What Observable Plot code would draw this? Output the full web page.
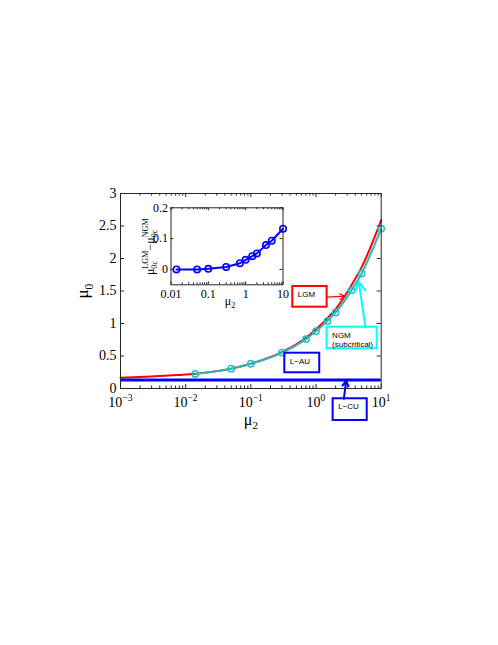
<!DOCTYPE html>
<html><head><meta charset="utf-8">
<script src="https://cdn.jsdelivr.net/npm/d3@7"></script>
<script src="https://cdn.jsdelivr.net/npm/@observablehq/plot@0.6"></script>
<style>
html,body{margin:0;padding:0;background:#fff;overflow:hidden;}
#wrap{position:relative;width:498px;height:645px;}
#wrap svg{position:absolute;left:0;top:0;max-width:none;}
</style></head><body><div id="wrap"></div>
<script>
// ---------- data ----------
const mu2 = [0.014, 0.05, 0.1, 0.3, 0.7, 1, 1.5, 2, 3.5, 5, 10];
const ngmMu0 = [0.225, 0.305, 0.38, 0.552, 0.76, 0.88, 1.04, 1.17, 1.51, 1.77, 2.46];
const lgmMu2 = [0.001, 0.003, 0.01, 0.014, 0.05, 0.1, 0.3, 0.7, 1, 1.5, 2, 3.5, 5, 10];
const lgmMu0 = [0.165, 0.185, 0.215, 0.227, 0.306, 0.382, 0.56, 0.78, 0.911, 1.083, 1.222, 1.589, 1.863, 2.59];
const lcuMu0 = [0.13];
const diffMu0c = [0, 0, 0.002, 0.008, 0.02, 0.031, 0.043, 0.052, 0.079, 0.093, 0.132];
const xTicks = [1e-3, 1e-2, 1e-1, 1e0, 1e1];
const yTicks = [0, 0.5, 1, 1.5, 2, 2.5, 3];
const insetXTicks = [0.01, 0.1, 1, 10];
const insetYTicks = [0, 0.1, 0.2];
const boxLabels = [["LGM"], ["NGM", "(subcritical)"], ["L\u2212AU"], ["L\u2212CU"]];
const boxColors = ["#ff0000", "#00ffff", "#0000ff", "#0000ff"];

// ---------- layout (annotation placement in data space) ----------
const boxPos = [
  {x1: 0.44, x2: 1.48, y1: 1.569, y2: 1.251},
  {x1: 1.48, x2: 8.67, y1: 0.943, y2: 0.611},
  {x1: 0.332, x2: 1.14, y1: 0.543, y2: 0.242},
  {x1: 1.83, x2: 6.1, y1: -0.158, y2: -0.492}
];
const arrowPos = [
  {x1: 1.48, y1: 1.405, x2: 2.76, y2: 1.42, color: "#ff0000", w: 1.2},
  {x1: 5.74, y1: 0.943, x2: 4.53, y2: 1.64, color: "#00ffff", w: 2},
  {x1: 2.67, y1: -0.158, x2: 2.9, y2: 0.12, color: "#0000ff", w: 2}
];

const W = 498, H = 645;
const M = {left: 120, right: 380.7, top: 193, bottom: 388};
const I = {left: 170.5, right: 282.5, top: 207.3, bottom: 284.3};
const serif = "'Liberation Serif', 'Times New Roman', serif";
const sans = "'Liberation Sans', Arial, sans-serif";
const axisCol = "#262626";

const boxes = boxPos.map((b, i) => ({...b, label: boxLabels[i], color: boxColors[i]}));
const ngm = mu2.map((x, i) => ({x, y: ngmMu0[i]}));
const lgm = lgmMu2.map((x, i) => ({x, y: lgmMu0[i]}));
const diff = mu2.map((x, i) => ({x, y: diffMu0c[i]}));

const isDecade = t => Math.abs(Math.log10(t) - Math.round(Math.log10(t))) < 1e-9;
const minorMain = d3.scaleLog().domain([1e-3, 10]).ticks().filter(t => !isDecade(t));
const minorInset = d3.scaleLog().domain([0.01, 10]).ticks().filter(t => !isDecade(t));
const pow10 = d => { const e = Math.round(Math.log10(d)); return "10^{" + (e < 0 ? "\u2212" + (-e) : e) + "}"; };

const fw = M.right - M.left, fh = M.bottom - M.top;
const mainPlot = Plot.plot({
  width: W, height: H,
  marginLeft: M.left, marginRight: W - M.right, marginTop: M.top, marginBottom: H - M.bottom,
  x: {type: "log", domain: [1e-3, 10], axis: null, label: null},
  y: {domain: [0, 3], axis: null, label: null},
  color: {type: "identity"},
  style: {fontFamily: serif, fontSize: "14px", background: "white", color: "black"},
  marks: [
    Plot.line(lgm, {x: "x", y: "y", stroke: "#ff0000", strokeWidth: 2, curve: "monotone-x"}),
    Plot.line(ngm, {x: "x", y: "y", stroke: "#33b3b3", strokeWidth: 2, curve: "monotone-x"}),
    Plot.dot(ngm, {x: "x", y: "y", r: 3.2, stroke: "#22c2c2", strokeWidth: 1.5, fill: "none"}),
    Plot.ruleY(lcuMu0, {y: d => d, stroke: "#0000ff", strokeWidth: 3}),
    Plot.rect(boxes, {x1: "x1", x2: "x2", y1: "y1", y2: "y2", stroke: "color", strokeWidth: 2, fill: "none"}),
    Plot.text(boxes, {x: "x1", y: "y1", text: d => d.label.join("\n"), textAnchor: "start", lineAnchor: "top",
      dx: 5, dy: 3.5, fontFamily: sans, fontSize: 8, lineHeight: 1.2, fill: "black"}),
    Plot.arrow(arrowPos.filter(a => a.w < 1.5), {x1: "x1", y1: "y1", x2: "x2", y2: "y2", stroke: "color", strokeWidth: 1.2, headLength: 7}),
    Plot.arrow(arrowPos.filter(a => a.w >= 1.5), {x1: "x1", y1: "y1", x2: "x2", y2: "y2", stroke: "color", strokeWidth: 2, headLength: 8}),
    // ticks (inside)
    Plot.tickX(xTicks, {x: d => d, insetTop: fh - 4, stroke: axisCol}),
    Plot.tickX(xTicks, {x: d => d, insetBottom: fh - 4, stroke: axisCol}),
    Plot.tickX(minorMain, {x: d => d, insetTop: fh - 2.5, stroke: axisCol}),
    Plot.tickX(minorMain, {x: d => d, insetBottom: fh - 2.5, stroke: axisCol}),
    Plot.tickY(yTicks, {y: d => d, insetRight: fw - 4, stroke: axisCol}),
    Plot.tickY(yTicks, {y: d => d, insetLeft: fw - 4, stroke: axisCol}),
    Plot.frame({stroke: axisCol}),
    Plot.axisX({ticks: xTicks, tickFormat: pow10, tickSize: 0, tickPadding: 9, fontSize: 14, fontFamily: serif, label: null}),
    Plot.axisY({ticks: yTicks, tickFormat: d => String(d), tickSize: 0, tickPadding: 4, fontSize: 14, fontFamily: serif, label: null}),
    Plot.text(["\u03bc_{0}"], {frameAnchor: "left", textAnchor: "middle", text: d => d, rotate: -90, dx: -38, fontSize: 17, fontFamily: serif}),
    Plot.text(["\u03bc_{2}"], {frameAnchor: "bottom", textAnchor: "middle", text: d => d, dy: 36, fontSize: 16, fontFamily: serif})
  ]
});

const iw = I.right - I.left, ih = I.bottom - I.top;
const insetPlot = Plot.plot({
  width: W, height: H,
  marginLeft: I.left, marginRight: W - I.right, marginTop: I.top, marginBottom: H - I.bottom,
  x: {type: "log", domain: [0.01, 10], axis: null, label: null},
  y: {domain: [-0.05, 0.2], axis: null, label: null},
  style: {fontFamily: serif, fontSize: "12px", background: "transparent", color: "black"},
  marks: [
    Plot.frame({fill: "white", stroke: "none"}),
    Plot.line(diff, {x: "x", y: "y", stroke: "#0000ff", strokeWidth: 2}),
    Plot.dot(diff, {x: "x", y: "y", r: 3.2, stroke: "#0000ff", strokeWidth: 1.6, fill: "none"}),
    Plot.tickX(insetXTicks, {x: d => d, insetTop: ih - 3, stroke: axisCol}),
    Plot.tickX(insetXTicks, {x: d => d, insetBottom: ih - 3, stroke: axisCol}),
    Plot.tickX(minorInset, {x: d => d, insetTop: ih - 2, stroke: axisCol}),
    Plot.tickX(minorInset, {x: d => d, insetBottom: ih - 2, stroke: axisCol}),
    Plot.tickY(insetYTicks, {y: d => d, insetRight: iw - 3, stroke: axisCol}),
    Plot.tickY(insetYTicks, {y: d => d, insetLeft: iw - 3, stroke: axisCol}),
    Plot.frame({stroke: axisCol}),
    Plot.axisX({ticks: insetXTicks, tickFormat: d => String(d), tickSize: 0, tickPadding: 5, fontSize: 12, fontFamily: serif, label: null}),
    Plot.axisY({ticks: insetYTicks, tickFormat: d => String(d), tickSize: 0, tickPadding: 3, fontSize: 12, fontFamily: serif, label: null}),
    Plot.text(["\u03bc_{0c}^{LGM}\u2212\u03bc_{0c}^{NGM}"], {frameAnchor: "left", textAnchor: "middle", text: d => d, rotate: -90, dx: -21, fontSize: 12, fontFamily: serif}),
    Plot.text(["\u03bc_{2}"], {frameAnchor: "bottom", textAnchor: "middle", text: d => d, dy: 20, dx: 3, fontSize: 12, fontFamily: serif})
  ]
});

const wrap = document.getElementById("wrap");
wrap.appendChild(mainPlot);
wrap.appendChild(insetPlot);

// turn _{..} and ^{..} into sub/superscript tspans, then re-centre the whole label
function richify(root) {
  root.querySelectorAll("text").forEach(el => {
    const t = el.textContent;
    if (!/[_^]\{/.test(t)) return;
    const fs = parseFloat(getComputedStyle(el).fontSize) || 12;
    const small = fs * 0.68;
    const re = /([_^])\{([^}]*)\}|([^_^]+)/g;
    const parts = []; let m;
    while ((m = re.exec(t))) parts.push(m[3] !== undefined ? {k: "n", s: m[3]} : {k: m[1] === "_" ? "sub" : "sup", s: m[2]});
    while (el.firstChild) el.removeChild(el.firstChild);
    let level = 0, prev = null;
    for (const p of parts) {
      const ts = document.createElementNS("http://www.w3.org/2000/svg", "tspan");
      ts.textContent = p.s;
      const target = p.k === "n" ? 0 : p.k === "sub" ? 0.28 * fs : -0.48 * fs;
      if (target !== level) ts.setAttribute("dy", (target - level).toFixed(2));
      if (p.k !== "n") ts.setAttribute("font-size", small.toFixed(2));
      el.appendChild(ts);
      if (p.k === "sup" && prev && prev.k === "sub") ts.setAttribute("dx", (-prev.el.getComputedTextLength()).toFixed(2));
      level = target;
      prev = {k: p.k, el: ts};
    }
    const anchor = getComputedStyle(el).textAnchor;
    if (anchor === "middle") {
      const bb = el.getBBox();
      const x0 = parseFloat(el.getAttribute("x")) || 0;
      const off = x0 - (bb.x + bb.width / 2);
      el.setAttribute("x", (x0 + off).toFixed(2));
    }
  });
}
richify(mainPlot);
richify(insetPlot);
</script>
</body></html>
